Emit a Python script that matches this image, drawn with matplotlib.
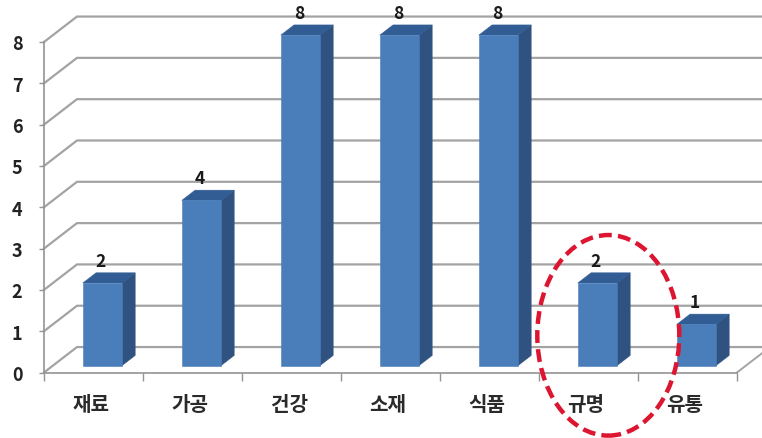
import matplotlib
matplotlib.use("Agg")
import matplotlib.pyplot as plt
from matplotlib.patches import Polygon, Ellipse

plt.rcParams['font.family'] = ['Noto Sans CJK KR', 'DejaVu Sans']

categories = ['재료', '가공', '건강', '소재', '식품', '규명', '유통']
counts = [2, 4, 8, 8, 8, 2, 1]
y_ticks = list(range(9))

W, H = 762, 439
X0, X1, Y0, Y8 = 44, 737, 373.5, 43

fig = plt.figure(figsize=(W / 100, H / 100), dpi=100, facecolor='white')
ax = fig.add_axes([X0 / W, 1 - Y0 / H, (X1 - X0) / W, (Y0 - Y8) / H])
ax.set_xlim(0, len(categories))
ax.set_ylim(0, 8)
ax.patch.set_visible(False)

# Oblique projection: a full step into the chart shifts right and up by these
# amounts, given in axis units.
DEPTH_X = 33 / 99
DEPTH_Y = 25.5 / 41.4


def project(x, y, depth):
    return x + depth * DEPTH_X, y + depth * DEPTH_Y


GRID = '#a3a3a3'
for v in y_ticks:
    pts = [project(0, v, 0), project(0, v, 1), project(len(categories) + 1, v, 1)]
    ax.plot(*zip(*pts), color=GRID, lw=1.6, clip_on=False, zorder=1, solid_joinstyle='miter')
# Floor edge on the right
edge = [project(len(categories), 0, 0), project(len(categories), 0, 1)]
ax.plot(*zip(*edge), color=GRID, lw=1.4, clip_on=False, zorder=1)

BAR_W = 0.395
D_FRONT, D_BACK = 0.27, 0.67
FRONT, SIDE, TOP = '#4a7ebb', '#2f5280', '#325d94'
for i, val in enumerate(counts):
    left = i + 0.5 - BAR_W / 2
    right = i + 0.5 + BAR_W / 2
    base = D_FRONT
    front = [project(left, 0, base), project(right, 0, base),
             project(right, val, base), project(left, val, base)]
    side = [project(right, 0, base), project(right, 0, D_BACK),
            project(right, val, D_BACK), project(right, val, base)]
    top = [project(left, val, base), project(right, val, base),
           project(right, val, D_BACK), project(left, val, D_BACK)]
    for poly, col in ((side, SIDE), (top, TOP), (front, FRONT)):
        ax.add_patch(Polygon(poly, closed=True, facecolor=col, edgecolor=col,
                             lw=0.4, clip_on=False, zorder=3))
    # Value label sits above the bar, centred on its front face
    lx, _ = project(i + 0.5, val, 0.22)
    _, ly = project(i + 0.5, val, 0.62)
    ax.annotate(str(val), (lx, ly), xytext=(0, 3), textcoords='offset points',
                ha='center', va='bottom', fontsize=12.5, fontweight='bold',
                color='#1a1a1a', annotation_clip=False, zorder=4)

ax.spines[['top', 'right']].set_visible(False)
ax.spines[['left', 'bottom']].set_color('#949494')
ax.spines[['left', 'bottom']].set_linewidth(1.2)

ax.set_yticks(y_ticks)
ax.set_yticklabels([str(v) for v in y_ticks], fontsize=13, fontweight='bold', color='#222222')
ax.tick_params(axis='y', length=3.5, width=1, color='#949494', pad=12)

ax.set_xticks(range(len(categories) + 1))
ax.set_xticklabels([])
ax.tick_params(axis='x', which='major', length=6, width=1, color='#949494')
ax.set_xticks([i + 0.475 for i in range(len(categories))], minor=True)
ax.set_xticklabels(categories, minor=True, fontsize=14.5, fontweight='bold', color='#2a2a2a')
ax.tick_params(axis='x', which='minor', length=0, pad=15)

# Dashed ring around the sixth category
ax.add_patch(Ellipse((5.7, 0.9), 142 / 99, 201 / 41.4, fill=False, edgecolor='#dc1530',
                     lw=3.2, linestyle=(0, (2.9, 1.4)), clip_on=False, zorder=5))

fig.savefig('out.png', dpi=100)
